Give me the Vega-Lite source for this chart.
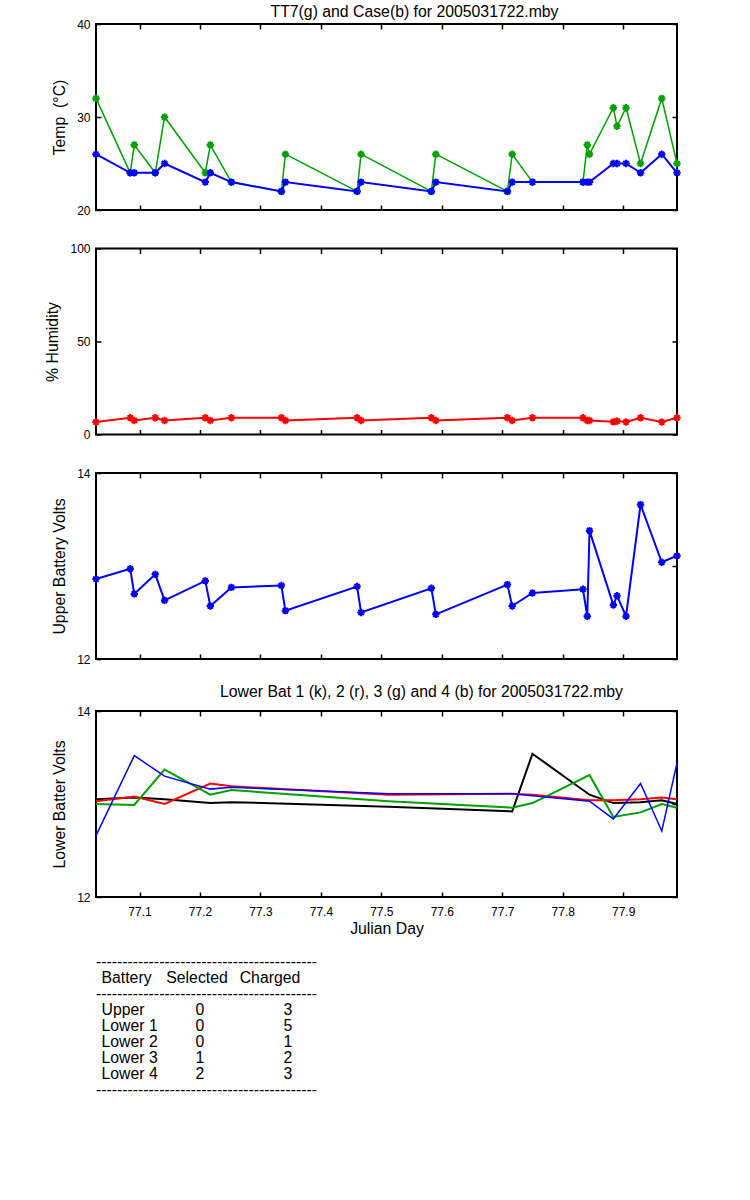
{
  "$schema": "https://vega.github.io/schema/vega-lite/v6.json",
  "background": "white",
  "padding": {"left": 43, "top": 3, "right": 10, "bottom": 10},
  "config": {
    "font": "Liberation Sans",
    "view": {"stroke": "black", "strokeWidth": 2},
    "axis": {"grid": false, "domain": false, "tickColor": "black", "tickWidth": 1.5, "tickSize": -5, "labelColor": "black", "labelFont": "Liberation Sans", "labelFontSize": 12, "labelFlush": false, "labelOverlap": false, "titleFont": "Liberation Sans", "titleFontSize": 15.8, "titleFontWeight": "normal", "titleColor": "black"},
    "title": {"font": "Liberation Sans", "fontSize": 15.8, "fontWeight": "normal", "color": "black"}
  },
  "datasets": {
    "main": [
      {"t": 77.028, "tt7": 32, "case": 26, "hum": 6.7, "up": 12.86},
      {"t": 77.0846, "tt7": 24, "case": 24, "hum": 9, "up": 12.97},
      {"t": 77.0913, "tt7": 27, "case": 24, "hum": 7.5, "up": 12.70},
      {"t": 77.1260, "tt7": 24, "case": 24, "hum": 9, "up": 12.91},
      {"t": 77.1414, "tt7": 30, "case": 25, "hum": 7.5, "up": 12.63},
      {"t": 77.2088, "tt7": 24, "case": 23, "hum": 9, "up": 12.84},
      {"t": 77.2171, "tt7": 27, "case": 24, "hum": 7.5, "up": 12.57},
      {"t": 77.2519, "tt7": 23, "case": 23, "hum": 9, "up": 12.77},
      {"t": 77.3346, "tt7": 22, "case": 22, "hum": 9, "up": 12.79},
      {"t": 77.3413, "tt7": 26, "case": 23, "hum": 7.5, "up": 12.52},
      {"t": 77.4598, "tt7": 22, "case": 22, "hum": 9, "up": 12.78},
      {"t": 77.4664, "tt7": 26, "case": 23, "hum": 7.5, "up": 12.50},
      {"t": 77.5827, "tt7": 22, "case": 22, "hum": 9, "up": 12.76},
      {"t": 77.5901, "tt7": 26, "case": 23, "hum": 7.5, "up": 12.48},
      {"t": 77.7085, "tt7": 22, "case": 22, "hum": 9, "up": 12.80},
      {"t": 77.7164, "tt7": 26, "case": 23, "hum": 7.5, "up": 12.57},
      {"t": 77.7499, "tt7": 23, "case": 23, "hum": 9, "up": 12.71},
      {"t": 77.8335, "tt7": 23, "case": 23, "hum": 9, "up": 12.75},
      {"t": 77.8406, "tt7": 27, "case": 23, "hum": 7.5, "up": 12.46},
      {"t": 77.8443, "tt7": 26, "case": 23, "hum": 7.5, "up": 13.38},
      {"t": 77.8837, "tt7": 31, "case": 25, "hum": 6.8, "up": 12.58},
      {"t": 77.8898, "tt7": 29, "case": 25, "hum": 7.2, "up": 12.68},
      {"t": 77.9047, "tt7": 31, "case": 25, "hum": 6.7, "up": 12.46},
      {"t": 77.9287, "tt7": 25, "case": 24, "hum": 9, "up": 13.66},
      {"t": 77.9638, "tt7": 32, "case": 26, "hum": 6.7, "up": 13.04},
      {"t": 77.989, "tt7": 25, "case": 24, "hum": 9, "up": 13.11}
    ],
    "lower": [
      {"t": 77.028, "b1": 13.05, "b2": 13.03, "b3": 13.00, "b4": 12.66},
      {"t": 77.0913, "b1": 13.07, "b2": 13.08, "b3": 12.99, "b4": 13.52},
      {"t": 77.1414, "b1": 13.05, "b2": 13.00, "b3": 13.37, "b4": 13.30},
      {"t": 77.2171, "b1": 13.01, "b2": 13.22, "b3": 13.10, "b4": 13.16},
      {"t": 77.2519, "b1": 13.02, "b2": 13.19, "b3": 13.15, "b4": 13.18},
      {"t": 77.5123, "b1": 12.97, "b2": 13.10, "b3": 13.03, "b4": 13.11},
      {"t": 77.7164, "b1": 12.92, "b2": 13.11, "b3": 12.96, "b4": 13.11},
      {"t": 77.7499, "b1": 13.54, "b2": 13.10, "b3": 13.01, "b4": 13.09},
      {"t": 77.8443, "b1": 13.10, "b2": 13.04, "b3": 13.31, "b4": 13.03},
      {"t": 77.8837, "b1": 13.01, "b2": 13.04, "b3": 12.86, "b4": 12.84},
      {"t": 77.9287, "b1": 13.02, "b2": 13.05, "b3": 12.91, "b4": 13.22},
      {"t": 77.9638, "b1": 13.04, "b2": 13.07, "b3": 13.00, "b4": 12.71},
      {"t": 77.989, "b1": 13.00, "b2": 13.05, "b3": 12.96, "b4": 13.44}
    ],
    "table": [
      {"line": 0, "col": "dash", "text": "------------------------------------------"},
      {"line": 1, "col": "Battery", "text": "Battery"},
      {"line": 1, "col": "SelectedHead", "text": "Selected"},
      {"line": 1, "col": "ChargedHead", "text": "Charged"},
      {"line": 2, "col": "dash", "text": "------------------------------------------"},
      {"line": 3, "col": "Battery", "text": "Upper"},
      {"line": 3, "col": "Selected", "text": "0"},
      {"line": 3, "col": "Charged", "text": "3"},
      {"line": 4, "col": "Battery", "text": "Lower 1"},
      {"line": 4, "col": "Selected", "text": "0"},
      {"line": 4, "col": "Charged", "text": "5"},
      {"line": 5, "col": "Battery", "text": "Lower 2"},
      {"line": 5, "col": "Selected", "text": "0"},
      {"line": 5, "col": "Charged", "text": "1"},
      {"line": 6, "col": "Battery", "text": "Lower 3"},
      {"line": 6, "col": "Selected", "text": "1"},
      {"line": 6, "col": "Charged", "text": "2"},
      {"line": 7, "col": "Battery", "text": "Lower 4"},
      {"line": 7, "col": "Selected", "text": "2"},
      {"line": 7, "col": "Charged", "text": "3"},
      {"line": 8, "col": "dash", "text": "------------------------------------------"}
    ]
  },
  "vconcat": [
    {
      "spacing": 24.5,
      "vconcat": [
        {
          "width": 581, "height": 186,
          "title": {"text": "TT7(g) and Case(b) for 2005031722.mby", "anchor": "middle", "dx": 28, "offset": -3},
          "data": {"name": "main"},
          "layer": [
            {"mark": {"type": "line", "color": "#00a000", "strokeWidth": 1.5},
             "encoding": {
               "x": {"field": "t", "type": "quantitative", "scale": {"domain": [77.028, 77.989], "nice": false, "zero": false}, "axis": {"orient": "bottom", "values": [77.1, 77.2, 77.3, 77.4, 77.5, 77.6, 77.7, 77.8, 77.9], "labels": false, "title": null}},
               "y": {"field": "tt7", "type": "quantitative", "scale": {"domain": [20, 40], "nice": false, "zero": false}, "axis": {"orient": "left", "values": [20, 30, 40], "format": "d", "title": "Temp \u00a0(°C)", "labelPadding": 11, "titlePadding": 9}}
             }},
            {"mark": {"type": "point", "shape": "M-1,0L1,0M0,-1L0,1M-0.7,-0.7L0.7,0.7M-0.7,0.7L0.7,-0.7", "filled": false, "color": "#00a000", "strokeWidth": 2, "size": 55, "opacity": 1},
             "encoding": {
               "x": {"field": "t", "type": "quantitative", "axis": null},
               "y": {"field": "tt7", "type": "quantitative", "axis": null}
             }},
            {"mark": {"type": "line", "color": "#0000ff", "strokeWidth": 2},
             "encoding": {
               "x": {"field": "t", "type": "quantitative", "axis": {"orient": "top", "values": [77.1, 77.2, 77.3, 77.4, 77.5, 77.6, 77.7, 77.8, 77.9], "labels": false, "title": null}},
               "y": {"field": "case", "type": "quantitative", "axis": {"orient": "right", "values": [20, 30, 40], "labels": false, "title": null}}
             }},
            {"mark": {"type": "point", "shape": "M-1,0L1,0M0,-1L0,1M-0.7,-0.7L0.7,0.7M-0.7,0.7L0.7,-0.7", "filled": false, "color": "#0000ff", "strokeWidth": 2, "size": 55, "opacity": 1},
             "encoding": {
               "x": {"field": "t", "type": "quantitative", "axis": null},
               "y": {"field": "case", "type": "quantitative", "axis": null}
             }}
          ],
          "resolve": {"axis": {"x": "independent", "y": "independent"}}
        },
        {
          "width": 581, "height": 186,
          "data": {"name": "main"},
          "layer": [
            {"mark": {"type": "line", "color": "#ff0000", "strokeWidth": 2},
             "encoding": {
               "x": {"field": "t", "type": "quantitative", "scale": {"domain": [77.028, 77.989], "nice": false, "zero": false}, "axis": {"orient": "bottom", "values": [77.1, 77.2, 77.3, 77.4, 77.5, 77.6, 77.7, 77.8, 77.9], "labels": false, "title": null}},
               "y": {"field": "hum", "type": "quantitative", "scale": {"domain": [0, 100], "nice": false}, "axis": {"orient": "left", "values": [0, 50, 100], "format": "d", "title": "% Humidity", "labelPadding": 11, "titlePadding": 9}}
             }},
            {"mark": {"type": "point", "shape": "M-1,0L1,0M0,-1L0,1M-0.7,-0.7L0.7,0.7M-0.7,0.7L0.7,-0.7", "filled": false, "color": "#ff0000", "strokeWidth": 2, "size": 55, "opacity": 1},
             "encoding": {
               "x": {"field": "t", "type": "quantitative", "axis": {"orient": "top", "values": [77.1, 77.2, 77.3, 77.4, 77.5, 77.6, 77.7, 77.8, 77.9], "labels": false, "title": null}},
               "y": {"field": "hum", "type": "quantitative", "axis": {"orient": "right", "values": [0, 50, 100], "labels": false, "title": null}}
             }}
          ],
          "resolve": {"axis": {"x": "independent", "y": "independent"}}
        },
        {
          "width": 581, "height": 186,
          "data": {"name": "main"},
          "layer": [
            {"mark": {"type": "line", "color": "#0000ff", "strokeWidth": 2},
             "encoding": {
               "x": {"field": "t", "type": "quantitative", "scale": {"domain": [77.028, 77.989], "nice": false, "zero": false}, "axis": {"orient": "bottom", "values": [77.1, 77.2, 77.3, 77.4, 77.5, 77.6, 77.7, 77.8, 77.9], "labels": false, "title": null}},
               "y": {"field": "up", "type": "quantitative", "scale": {"domain": [12, 14], "nice": false, "zero": false}, "axis": {"orient": "left", "values": [12, 13, 14], "format": "d", "title": "Upper Battery Volts", "labelPadding": 11, "titlePadding": 9}}
             }},
            {"mark": {"type": "point", "shape": "M-1,0L1,0M0,-1L0,1M-0.7,-0.7L0.7,0.7M-0.7,0.7L0.7,-0.7", "filled": false, "color": "#0000ff", "strokeWidth": 2, "size": 55, "opacity": 1},
             "encoding": {
               "x": {"field": "t", "type": "quantitative", "axis": {"orient": "top", "values": [77.1, 77.2, 77.3, 77.4, 77.5, 77.6, 77.7, 77.8, 77.9], "labels": false, "title": null}},
               "y": {"field": "up", "type": "quantitative", "axis": {"orient": "right", "values": [12, 13, 14], "labels": false, "title": null}}
             }}
          ],
          "resolve": {"axis": {"x": "independent", "y": "independent"}}
        }
      ]
    },
    {
      "spacing": 17,
      "vconcat": [
        {
          "width": 581, "height": 186,
          "title": {"text": "Lower Bat 1 (k), 2 (r), 3 (g) and 4 (b) for 2005031722.mby", "anchor": "middle", "dx": 35, "offset": 4},
          "data": {"name": "lower"},
          "layer": [
            {"mark": {"type": "line", "color": "#000000", "strokeWidth": 2},
             "encoding": {
               "x": {"field": "t", "type": "quantitative", "scale": {"domain": [77.028, 77.989], "nice": false, "zero": false}, "axis": {"orient": "bottom", "values": [77.1, 77.2, 77.3, 77.4, 77.5, 77.6, 77.7, 77.8, 77.9], "title": "Julian Day", "labelPadding": 14, "titlePadding": 4}},
               "y": {"field": "b1", "type": "quantitative", "scale": {"domain": [12, 14], "nice": false, "zero": false}, "axis": {"orient": "left", "values": [12, 13, 14], "format": "d", "title": "Lower Batter Volts", "labelPadding": 11, "titlePadding": 9}}
             }},
            {"mark": {"type": "line", "color": "#ff0000", "strokeWidth": 2},
             "encoding": {
               "x": {"field": "t", "type": "quantitative", "axis": {"orient": "top", "values": [77.1, 77.2, 77.3, 77.4, 77.5, 77.6, 77.7, 77.8, 77.9], "labels": false, "title": null}},
               "y": {"field": "b2", "type": "quantitative", "axis": {"orient": "right", "values": [12, 13, 14], "labels": false, "title": null}}
             }},
            {"mark": {"type": "line", "color": "#00a000", "strokeWidth": 2},
             "encoding": {
               "x": {"field": "t", "type": "quantitative", "axis": null},
               "y": {"field": "b3", "type": "quantitative", "axis": null}
             }},
            {"mark": {"type": "line", "color": "#0000ff", "strokeWidth": 1.5},
             "encoding": {
               "x": {"field": "t", "type": "quantitative", "axis": null},
               "y": {"field": "b4", "type": "quantitative", "axis": null}
             }}
          ],
          "resolve": {"axis": {"x": "independent", "y": "independent"}}
        },
        {
          "width": 220, "height": 144,
          "view": {"stroke": null},
          "data": {"name": "table"},
          "encoding": {
            "y": {"field": "line", "type": "ordinal", "scale": {"type": "point", "padding": 0.5}, "axis": null}
          },
          "layer": [
            {"transform": [{"filter": "datum.col === 'dash'"}],
             "mark": {"type": "text", "align": "left", "baseline": "middle", "fontSize": 15.8, "color": "black"},
             "encoding": {
               "x": {"datum": -1, "type": "quantitative", "scale": {"domain": [-1, 0, 1, 2, 3, 4], "range": [0, 5.5, 101, 104, 174, 192]}, "axis": null},
               "text": {"field": "text"}
             }},
            {"transform": [{"filter": "datum.col === 'Battery'"}],
             "mark": {"type": "text", "align": "left", "baseline": "middle", "fontSize": 15.8, "color": "black"},
             "encoding": {
               "x": {"datum": 0, "type": "quantitative", "axis": null},
               "text": {"field": "text"}
             }},
            {"transform": [{"filter": "datum.col === 'SelectedHead'"}],
             "mark": {"type": "text", "align": "center", "baseline": "middle", "fontSize": 15.8, "color": "black"},
             "encoding": {
               "x": {"datum": 1, "type": "quantitative", "axis": null},
               "text": {"field": "text"}
             }},
            {"transform": [{"filter": "datum.col === 'Selected'"}],
             "mark": {"type": "text", "align": "center", "baseline": "middle", "fontSize": 15.8, "color": "black"},
             "encoding": {
               "x": {"datum": 2, "type": "quantitative", "axis": null},
               "text": {"field": "text"}
             }},
            {"transform": [{"filter": "datum.col === 'ChargedHead'"}],
             "mark": {"type": "text", "align": "center", "baseline": "middle", "fontSize": 15.8, "color": "black"},
             "encoding": {
               "x": {"datum": 3, "type": "quantitative", "axis": null},
               "text": {"field": "text"}
             }},
            {"transform": [{"filter": "datum.col === 'Charged'"}],
             "mark": {"type": "text", "align": "center", "baseline": "middle", "fontSize": 15.8, "color": "black"},
             "encoding": {
               "x": {"datum": 4, "type": "quantitative", "axis": null},
               "text": {"field": "text"}
             }}
          ]
        }
      ]
    }
  ],
  "spacing": 17
}
